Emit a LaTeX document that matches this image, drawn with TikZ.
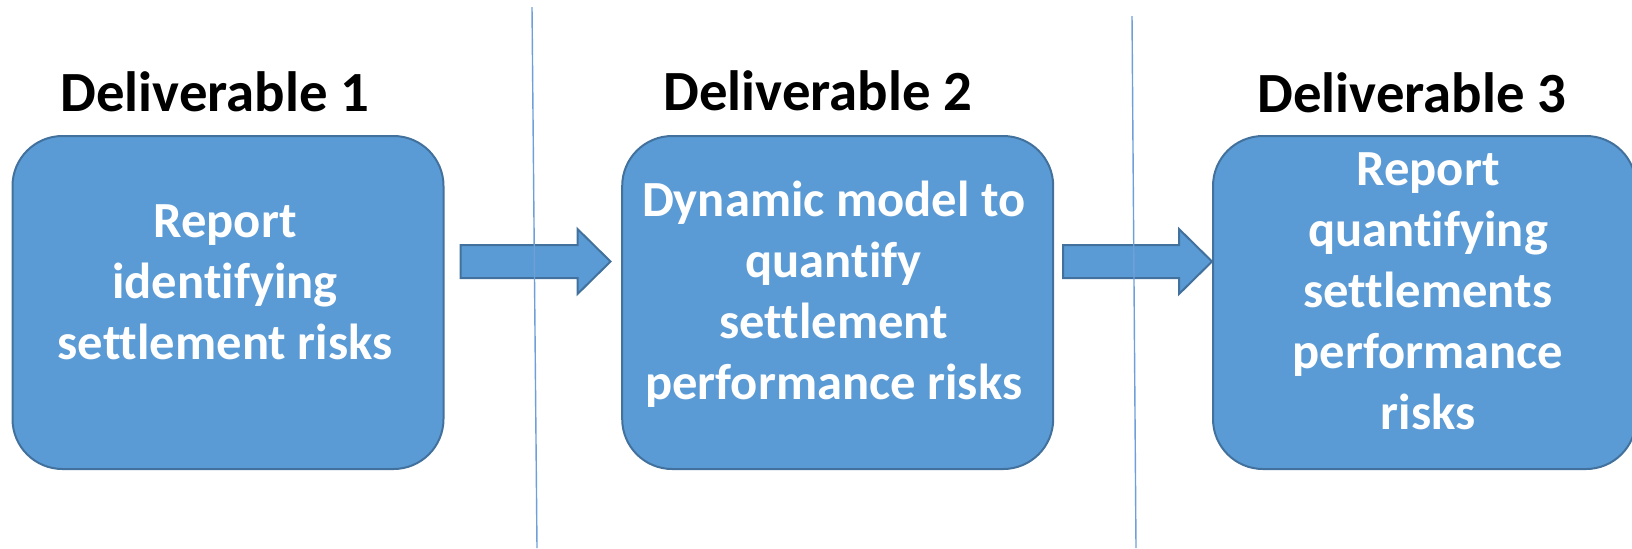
\documentclass[tikz,border=0pt]{standalone}
\usepackage{fontspec}
\setmainfont[Ligatures=NoCommon]{Carlito}
\usetikzlibrary{calc}

\definecolor{boxfill}{HTML}{5B9BD5}
\definecolor{boxline}{HTML}{41719C}
\definecolor{rulecol}{HTML}{6F9FD8}

% block arrow from tail coordinate #1 to tip coordinate #2 (horizontal)
\newcommand{\flowarrow}[2]{%
  \draw[blockarrow]
    ($(#1)+(0,-16.5)$) -- ($(#2)+(-33,-16.5)$) -- ($(#2)+(-33,-32.5)$)
    -- (#2) -- ($(#2)+(-33,32.5)$) -- ($(#2)+(-33,16.5)$)
    -- ($(#1)+(0,16.5)$) -- cycle;}

\begin{document}
\begin{tikzpicture}[x=0.5pt,y=-0.5pt,
  stage/.style={draw=boxline, line width=1pt, fill=boxfill,
    rounded corners=25pt, minimum width=215.5pt, minimum height=166.5pt,
    inner sep=0pt, outer sep=0pt},
  stagetext/.style={text=white, font=\bfseries\fontsize{25.3}{30.5}\selectfont,
    align=center, inner sep=0pt},
  heading/.style={font=\bfseries\fontsize{28.4}{35}\selectfont, anchor=base,
    inner sep=0pt},
  divider/.style={draw=rulecol, line width=0.7pt},
  blockarrow/.style={draw=boxline, line width=1pt, fill=boxfill, line join=miter}]

\useasboundingbox (0,0) rectangle (1632,548);
\clip (0,0) rectangle (1632,548);

% headings
\node[heading] (h1) at (215,111.8) {Deliverable 1};
\node[heading] (h2) at (818,110.7) {Deliverable 2};
\node[heading] (h3) at (1412,112) {Deliverable 3};

% deliverable boxes
\node[stage] (b1) at (228,302.5) {};
\node[stage] (b2) at (837.7,302.5) {};
\node[stage, minimum width=211.5pt] (b3) at (1424.5,302.5) {};

\node[stagetext] (t1) at ($(b1.center)+(-3,-20)$)
  {Report\\identifying\\settlement risks};
\node[stagetext] (t2) at ($(b2.center)+(-4,-8)$)
  {Dynamic model to\\quantify\\settlement\\performance risks};
\node[stagetext] (t3) at ($(b3.center)+(3.5,-11.5)$)
  {Report\\quantifying\\settlements\\performance\\risks};

% arrows between deliverables
\coordinate (a1s) at ($(b1.east)+(17,-41)$);
\coordinate (a1e) at ($(b2.west)+(-11.7,-41)$);
\coordinate (a2s) at ($(b2.east)+(10,-41)$);
\coordinate (a2e) at ($(b3.west)+(-1,-41)$);
\flowarrow{a1s}{a1e}
\flowarrow{a2s}{a2e}

% phase dividers
\draw[divider] (532,7) -- (537,548);
\draw[divider] (1132,16) -- (1136,548);
\end{tikzpicture}
\end{document}
